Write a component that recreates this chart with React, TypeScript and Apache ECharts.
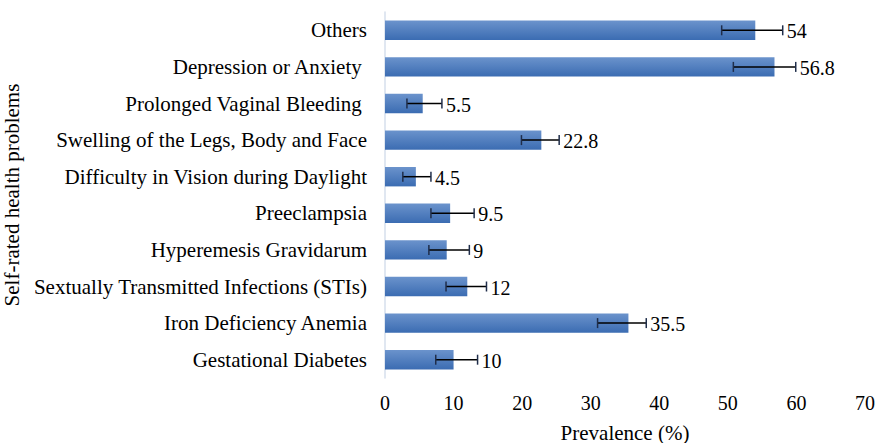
import React, { useEffect, useRef } from "react";
import * as echarts from "echarts";

const categories = [
  "Gestational Diabetes",
  "Iron Deficiency Anemia",
  "Sextually Transmitted Infections (STIs)",
  "Hyperemesis Gravidarum",
  "Preeclampsia",
  "Difficulty in Vision during Daylight",
  "Swelling of the Legs, Body and Face",
  "Prolonged Vaginal Bleeding ",
  "Depression or Anxiety ",
  "Others",
];
const values = [10, 35.5, 12, 9, 9.5, 4.5, 22.8, 5.5, 56.8, 54];
const errLow = [7.4, 31.0, 8.9, 6.4, 6.7, 2.6, 19.9, 3.2, 50.8, 49.1];
const errHigh = [13.5, 38.1, 14.8, 12.3, 13.0, 6.7, 25.4, 8.3, 59.9, 58.0];
const xTicks = [0, 10, 20, 30, 40, 50, 60, 70];

const FONT = "'Liberation Serif', 'Times New Roman', serif";
const FS = 21;

export default function App() {
  const ref = useRef<HTMLDivElement>(null);
  useEffect(() => {
    if (!ref.current) return;
    const chart = echarts.init(ref.current, undefined, { renderer: "svg" });
    chart.setOption({
      animation: false,
      backgroundColor: "#ffffff",
      textStyle: { fontFamily: FONT },
      grid: { left: 385, right: 11, top: 12, bottom: 65, containLabel: false, outerBoundsMode: "none" },
      xAxis: {
        type: "value",
        min: xTicks[0],
        max: xTicks[xTicks.length - 1],
        interval: 10,
        axisLine: { show: false },
        axisTick: { show: false },
        splitLine: { show: false },
        axisLabel: { fontFamily: FONT, fontSize: 20, color: "#000", margin: 15 },
        name: "Prevalence (%)",
        nameLocation: "middle",
        nameGap: 44,
        nameTextStyle: { fontFamily: FONT, fontSize: FS, color: "#000" },
      },
      yAxis: {
        type: "category",
        data: categories,
        axisLine: { show: true, lineStyle: { color: "#d6dfec", width: 1.5 } },
        axisTick: { show: false },
        axisLabel: { fontFamily: FONT, fontSize: FS, color: "#000", margin: 18 },
        name: "Self-rated health problems",
        nameLocation: "middle",
        nameGap: 362,
        nameRotate: 90,
        nameTextStyle: { fontFamily: FONT, fontSize: FS, color: "#000" },
      },
      series: [
        {
          type: "bar",
          data: values,
          barCategoryGap: "47%",
          itemStyle: {
            color: new echarts.graphic.LinearGradient(0, 0, 0, 1, [
              { offset: 0, color: "#6b93cc" },
              { offset: 1, color: "#3b6cb2" },
            ]),
          },
        },
        {
          type: "custom",
          data: values.map((v, i) => [errLow[i], errHigh[i], i, v]),
          encode: { x: [0, 1], y: 2 },
          renderItem: (params: any, api: any) => {
            const yi = api.value(2);
            const lo = api.coord([api.value(0), yi]);
            const hi = api.coord([api.value(1), yi]);
            const h = 5;
            const lineStyle = { stroke: "#000", lineWidth: 1.5 };
            const capStyle = { stroke: "#1f2d4a", lineWidth: 1.5 };
            return {
              type: "group",
              children: [
                { type: "line", shape: { x1: lo[0], y1: lo[1], x2: hi[0], y2: hi[1] }, style: lineStyle },
                { type: "line", shape: { x1: lo[0], y1: lo[1] - h, x2: lo[0], y2: lo[1] + h }, style: capStyle },
                { type: "line", shape: { x1: hi[0], y1: hi[1] - h, x2: hi[0], y2: hi[1] + h }, style: capStyle },
                {
                  type: "text",
                  x: hi[0] + 4,
                  y: hi[1] + 1,
                  style: {
                    text: String(api.value(3)),
                    fill: "#000",
                    fontFamily: FONT,
                    fontSize: 20,
                    align: "left",
                    verticalAlign: "middle",
                  },
                },
              ],
            };
          },
          z: 5,
        },
      ],
    });
    return () => chart.dispose();
  }, []);
  return <div ref={ref} style={{ width: 876, height: 443, position: "absolute", left: 0, top: 0 }} />;
}
